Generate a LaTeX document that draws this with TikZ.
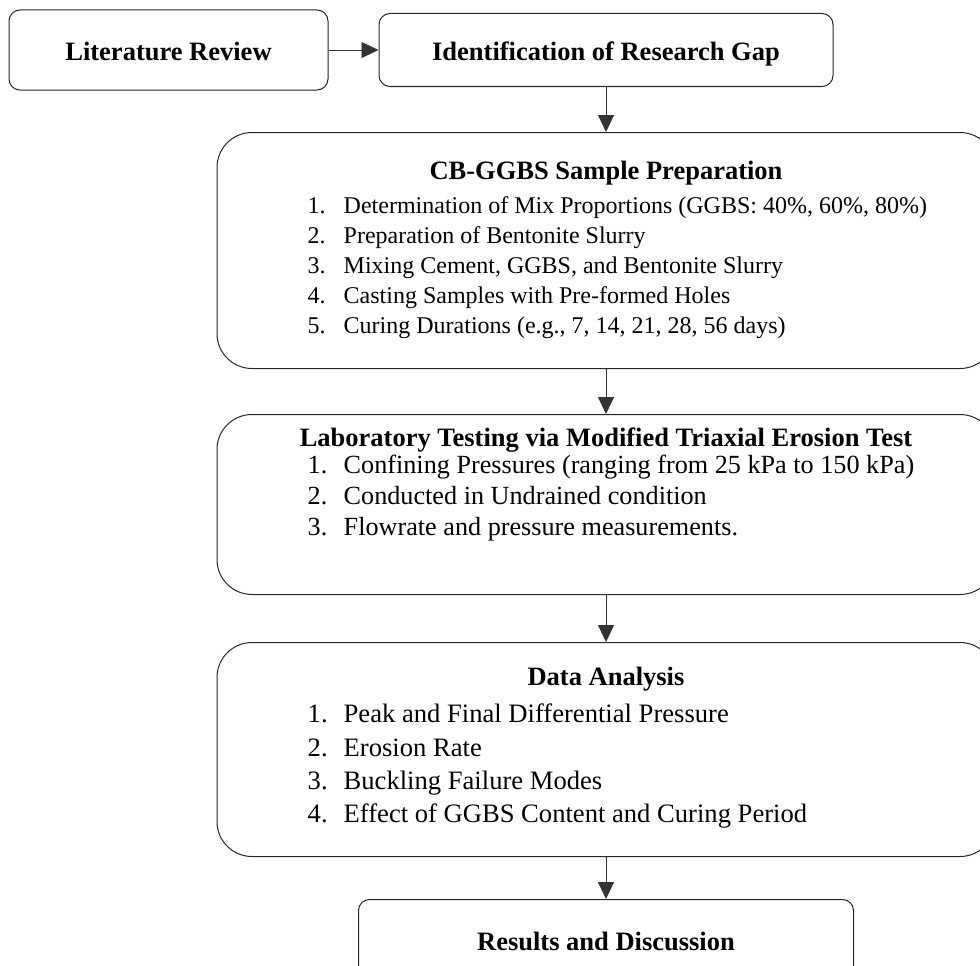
\documentclass[tikz,border=0pt]{standalone}
\usepackage{fontspec}
\setmainfont{Liberation Serif}
\usepackage{tikz}
\usetikzlibrary{arrows.meta, positioning}

\newcommand{\stepno}[1]{\makebox[36pt][l]{#1}}

\begin{document}
\begin{tikzpicture}[
            node distance=45pt and 50pt,
            box/.style={draw=black!85, line width=1pt, rounded corners=11pt,
                    align=center, text height=22pt, text depth=0pt,
                    font=\fontsize{26.5}{30}\selectfont\bfseries},
            bigbox/.style={draw=black!85, line width=1pt, rounded corners=35pt,
                    minimum width=778pt},
            head/.style={inner sep=0pt, text height=7pt, text depth=2pt,
                    font=\fontsize{26.5}{30}\selectfont\bfseries},
            steps/.style 2 args={inner sep=0pt, align=left,
                    font=\fontsize{#1}{#2}\selectfont},
            arr/.style={-{Triangle[length=17pt, width=16pt]}, line width=0.8pt, draw=black!80}]

        \useasboundingbox (0,0) rectangle (980pt,-966pt);
        \clip (0,0) rectangle (980pt,-966pt);

        \node[box, minimum width=319pt, minimum height=80pt] (lit) at (168.5pt,-50pt) {Literature Review};
        \node[box, minimum width=454pt, minimum height=73pt, right=of lit] (gap) {Identification of Research Gap};

        % sample preparation
        \node[bigbox, minimum height=236pt, below=of gap] (prep) {};
        \node[head, below=40pt of prep.north] (preptitle) {CB-GGBS Sample Preparation};
        \node[steps={24}{30.2}, below right=64pt and 91pt of prep.north west] (preplist)
        {\stepno{1.}Determination of Mix Proportions (GGBS: 40\%, 60\%, 80\%)\\
         \stepno{2.}Preparation of Bentonite Slurry\\
         \stepno{3.}Mixing Cement, GGBS, and Bentonite Slurry\\
         \stepno{4.}Casting Samples with Pre-formed Holes\\
         \stepno{5.}Curing Durations (e.g., 7, 14, 21, 28, 56 days)};

        % erosion test
        \node[bigbox, minimum height=180pt, below=of prep] (lab) {};
        \node[head, below=25pt of lab.north] (labtitle) {Laboratory Testing via Modified Triaxial Erosion Test};
        \node[steps={26.2}{31}, below right=41pt and 91pt of lab.north west] (lablist)
        {\stepno{1.}Confining Pressures (ranging from 25 kPa to 150 kPa)\\
         \stepno{2.}Conducted in Undrained condition\\
         \stepno{3.}Flowrate and pressure measurements.};

        % analysis
        \node[bigbox, minimum height=214pt, below=47pt of lab] (data) {};
        \node[head, below=36pt of data.north] (datatitle) {Data Analysis};
        \node[steps={26.6}{33.3}, below right=62pt and 91pt of data.north west] (datalist)
        {\stepno{1.}Peak and Final Differential Pressure\\
         \stepno{2.}Erosion Rate\\
         \stepno{3.}Buckling Failure Modes\\
         \stepno{4.}Effect of GGBS Content and Curing Period};

        \node[box, minimum width=495pt, minimum height=80pt, below=42pt of data] (res) {Results and Discussion};

        \draw[arr] (lit) -- (gap);
        \draw[arr] (gap) -- (prep);
        \draw[arr] (prep) -- (lab);
        \draw[arr] (lab) -- (data);
        \draw[arr] (data) -- (res);
    \end{tikzpicture}
\end{document}
